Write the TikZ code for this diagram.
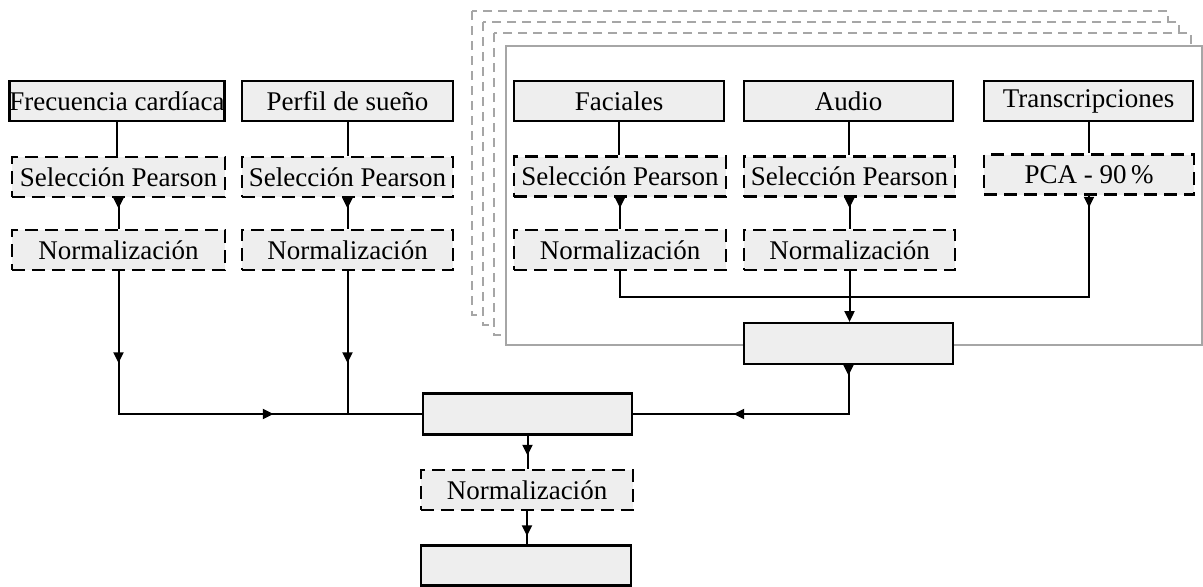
\documentclass[tikz,border=0pt]{standalone}
\usepackage{fontspec}
\setmainfont{Liberation Serif}
\usetikzlibrary{arrows.meta,decorations.markings}

\definecolor{boxfill}{HTML}{EEEEEE}
\definecolor{panelgray}{HTML}{A6A6A6}

\tikzset{
  base/.style={fill=boxfill, minimum height=20pt, inner sep=0pt,
               font=\fontsize{13.5}{15}\selectfont},
  srcbox/.style={base, draw=black, line width=1.1pt},
  procbox/.style={base, draw=black, line width=1.1pt, dash pattern=on 6.5pt off 3.5pt},
  conn/.style={draw=black, line width=1pt},
  tip/.tip={Triangle[length=5.4pt,width=5pt]},
  arrowat/.style={postaction={decorate},
    decoration={markings, mark=at position #1 with {\arrow{tip}}}},
  arrowsat/.style 2 args={postaction={decorate},
    decoration={markings, mark=at position #1 with {\arrow{tip}},
                          mark=at position #2 with {\arrow{tip}}}},
  backpanel/.style={draw=panelgray, fill=white, line width=1pt, dash pattern=on 4.5pt off 3pt},
  frontpanel/.style={draw=panelgray, fill=white, line width=1pt}
}

\begin{document}
\begin{tikzpicture}[x=0.5pt, y=-0.5pt]
  \useasboundingbox (0,0) rectangle (1203,586);

  % stacked panels of the per-sample modalities
  \draw[backpanel]  (472,11) rectangle (1168,315);
  \draw[backpanel]  (483,22) rectangle (1179,325);
  \draw[backpanel]  (494,33) rectangle (1191,335);
  \draw[frontpanel] (506,46) rectangle (1202,345);

  % sources
  \node[srcbox, minimum width=105pt]   (fc) at (117,101)    {Frecuencia cardíaca};
  \node[srcbox, minimum width=105.5pt] (ps) at (347.5,101)  {Perfil de sueño};
  \node[srcbox, minimum width=105pt]   (fa) at (619,101)    {Faciales};
  \node[srcbox, minimum width=104.5pt] (au) at (848.5,101)  {Audio};
  \node[srcbox, minimum width=104.5pt] (tr) at (1088.5,101) {Transcripciones};

  % feature selection
  \node[procbox, minimum width=106.5pt] (sel1) at (118.5,177)   {Selección Pearson};
  \node[procbox, minimum width=105.5pt] (sel2) at (347.5,177)   {Selección Pearson};
  \node[procbox, minimum width=106pt]   (sel3) at (620,176.5)   {Selección Pearson};
  \node[procbox, minimum width=105.5pt] (sel4) at (849.5,176.5) {Selección Pearson};
  \node[procbox, minimum width=105pt]   (pca)  at (1089,174.5)  {PCA - 90\,\%};

  % normalization
  \node[procbox, minimum width=106.5pt] (norm1) at (118.5,250) {Normalización};
  \node[procbox, minimum width=105.5pt] (norm2) at (347.5,250) {Normalización};
  \node[procbox, minimum width=106pt]   (norm4) at (620,250)   {Normalización};
  \node[procbox, minimum width=105.5pt] (norm5) at (849.5,250) {Normalización};

  % fusion stages
  \node[srcbox, minimum width=104.5pt, minimum height=20.5pt] (mergeR) at (848.5,343.5) {};
  \node[srcbox, minimum width=104.5pt, minimum height=20.5pt] (center) at (527.5,414) {};
  \node[procbox, minimum width=106pt] (norm3) at (527,490) {Normalización};
  \node[srcbox, minimum width=105pt, minimum height=20pt] (final) at (526,565.5) {};

  \coordinate (bus) at (848,297);
  \coordinate (jL)  at (norm1.south |- center.west);
  \coordinate (jR)  at (mergeR.south |- center.east);

  % source -> selection
  \draw[conn] (fc.south) -- (fc.south |- sel1.north);
  \draw[conn] (ps.south) -- (ps.south |- sel2.north);
  \draw[conn] (fa.south) -- (fa.south |- sel3.north);
  \draw[conn] (au.south) -- (au.south |- sel4.north);
  \draw[conn] (tr.south) -- (tr.south |- pca.north);

  % selection -> normalization
  \draw[conn, arrowat=5.2pt] (sel1.south) -- (sel1.south |- norm1.north);
  \draw[conn, arrowat=5.2pt] (sel2.south) -- (sel2.south |- norm2.north);
  \draw[conn, arrowat=5.2pt] (sel3.south) -- (sel3.south |- norm4.north);
  \draw[conn, arrowat=5.2pt] (sel4.south) -- (sel4.south |- norm5.north);

  % modalities of the panel -> panel fusion
  \draw[conn, arrowat=6pt] (pca.south) -- (pca.south |- bus) -- (norm4.south |- bus) -- (norm4.south);
  \draw[conn, -tip] (norm5.south) -- (norm5.south |- mergeR.north);

  % everything -> global fusion
  \draw[conn, arrowsat={46pt}{149pt}] (norm1.south) -- (jL) -- (center.west);
  \draw[conn, arrowat=46pt] (norm2.south) -- (norm2.south |- center.west);
  \draw[conn, arrowsat={5.2pt}{82pt}] (mergeR.south) -- (jR) -- (center.east);

  % global fusion -> output
  \draw[conn, arrowat=10pt] (center.south) -- (center.south |- norm3.north);
  \draw[conn, arrowat=12.5pt] (norm3.south) -- (norm3.south |- final.north);
\end{tikzpicture}
\end{document}
